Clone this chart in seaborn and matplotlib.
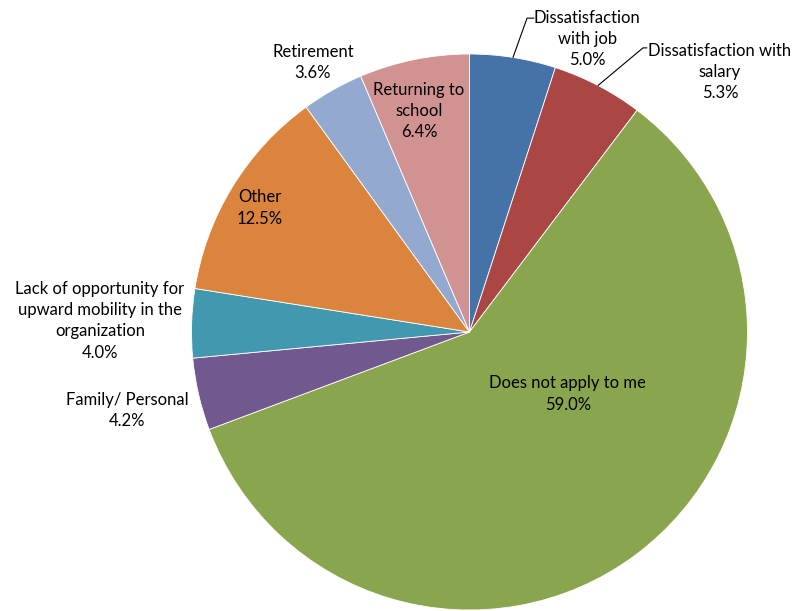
import matplotlib
matplotlib.use("Agg")
import matplotlib.pyplot as plt
import numpy as np
import seaborn as sns

# Reasons for leaving, share of respondents (%)
categories = [
    "Dissatisfaction\nwith job",
    "Dissatisfaction with\nsalary",
    "Does not apply to me",
    "Family/ Personal",
    "Lack of opportunity for\nupward mobility in the\norganization",
    "Other",
    "Retirement",
    "Returning to\nschool",
]
shares = [5.0, 5.3, 59.0, 4.2, 4.0, 12.5, 3.6, 6.4]
colors = ["#4572A7", "#AA4643", "#89A54E", "#71588F",
          "#4198AF", "#DB843D", "#93A9CF", "#D19392"]

# Label centres, in units of the pie radius relative to its centre
label_pos = [(0.423, 1.054), (0.901, 0.935), (0.354, -0.223), (-1.232, -0.281),
             (-1.329, 0.040), (-0.754, 0.446), (-0.563, 0.968), (-0.182, 0.795)]
# Elbow and end points of leader lines for labels set outside the pie
leaders = {0: [(0.207, 1.129), (0.232, 1.129)],
           1: [(0.624, 1.022), (0.638, 1.022)]}

sns.set_theme(style="white")
plt.rcParams["font.family"] = ["Lato", "DejaVu Sans"]

fig = plt.figure(figsize=(7.96, 6.11), dpi=100)
ax = fig.add_axes([0, 0, 1, 1])
palette = sns.color_palette(colors)

wedges, _ = ax.pie(shares, colors=palette, startangle=90, counterclock=False,
                   radius=1.0, center=(0, 0),
                   wedgeprops=dict(edgecolor="white", linewidth=0.6))

for i, (w, lab, val) in enumerate(zip(wedges, categories, shares)):
    x, y = label_pos[i]
    ax.text(x, y, f"{lab}\n{val:.1f}%", ha="center", va="center",
            fontsize=12, color="black", linespacing=1.4)
    if i in leaders:
        mid = np.deg2rad((w.theta1 + w.theta2) / 2)
        pts = [(np.cos(mid), np.sin(mid))] + leaders[i]
        ax.plot([p[0] for p in pts], [p[1] for p in pts], color="black", lw=0.8)

r_px = 278.0
cx, cy = 469.5, 332.0
ax.set_xlim(-cx / r_px, (796 - cx) / r_px)
ax.set_ylim(-(611 - cy) / r_px, cy / r_px)
ax.set_aspect("auto")
ax.axis("off")

fig.savefig("out.png", dpi=100, facecolor="white")
